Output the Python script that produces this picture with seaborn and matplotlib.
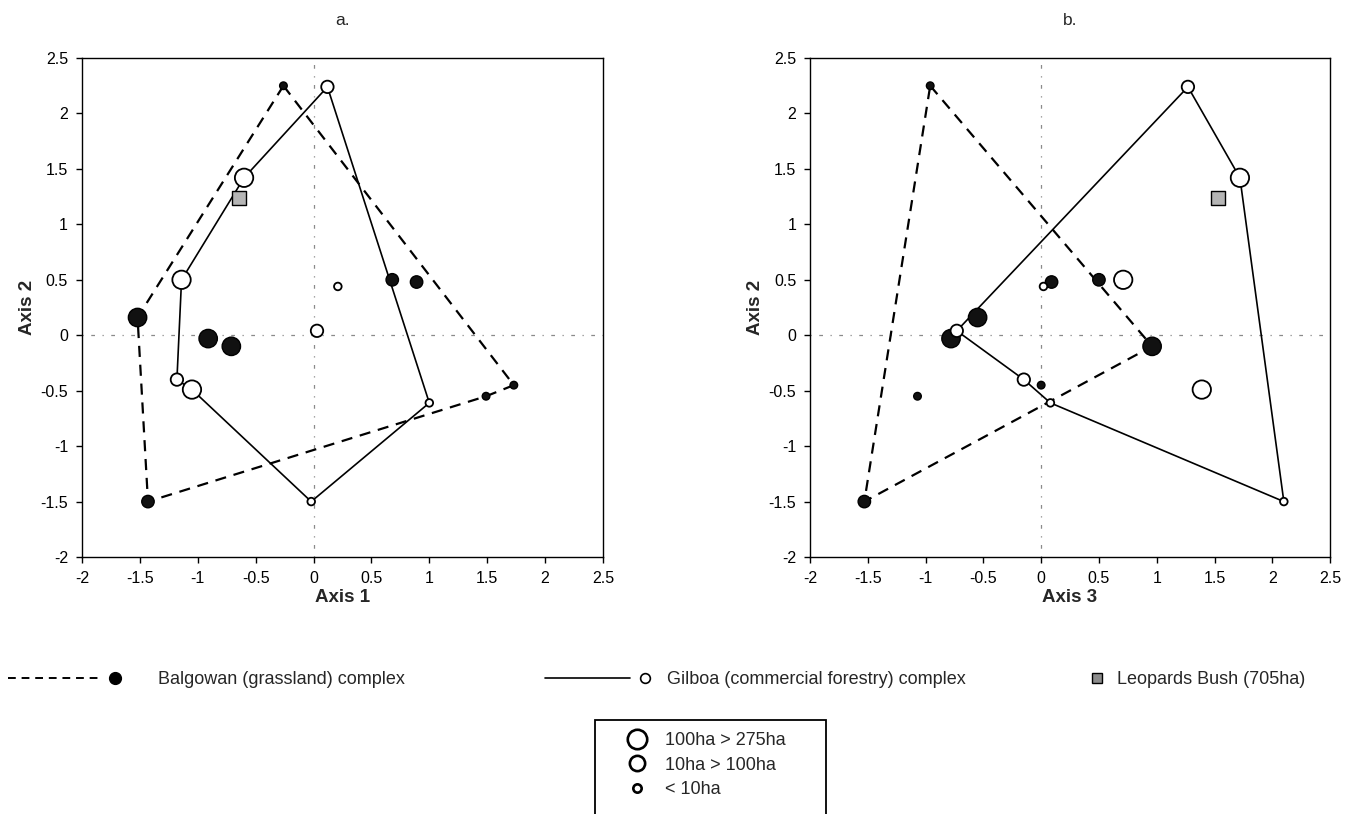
import numpy as np
import pandas as pd
import matplotlib
matplotlib.use("Agg")
import matplotlib.pyplot as plt
import seaborn as sns
from matplotlib.lines import Line2D
from matplotlib.patches import Rectangle
from matplotlib.legend_handler import HandlerBase
from matplotlib.ticker import FuncFormatter

# ---------------- data ----------------
bal_axis1 = [-0.26, -1.52, -1.43, 1.49, 1.73, 0.68, 0.89, -0.91, -0.71]
bal_axis2 = [2.25, 0.16, -1.50, -0.55, -0.45, 0.50, 0.48, -0.03, -0.10]
bal_axis3 = [-0.96, -0.55, -1.53, -1.07, 0.00, 0.50, 0.09, -0.78, 0.96]
bal_size = ["small", "large", "medium", "small", "small", "medium", "medium", "large", "large"]

gil_axis1 = [0.12, -0.60, -1.14, -1.18, -1.05, 0.03, 0.21, 1.00, -0.02]
gil_axis2 = [2.24, 1.42, 0.50, -0.40, -0.49, 0.04, 0.44, -0.61, -1.50]
gil_axis3 = [1.27, 1.72, 0.71, -0.15, 1.39, -0.73, 0.02, 0.08, 2.10]
gil_size = ["medium", "large", "large", "medium", "large", "medium", "small", "small", "small"]

leop_axis1 = [-0.64]
leop_axis2 = [1.24]
leop_axis3 = [1.53]

# hull vertex order (indices into the site lists)
bal_hull_a = [0, 4, 3, 2, 1, 0]
bal_hull_b = [0, 8, 2, 0]
gil_hull_a = [0, 7, 8, 4, 3, 2, 1, 0]
gil_hull_b = [0, 1, 8, 7, 3, 5, 0]

group_labels = ["Balgowan (grassland) complex",
                "Gilboa (commercial forestry) complex",
                "Leopards Bush (705ha)"]
size_labels = ["100ha > 275ha", "10ha > 100ha", "< 10ha"]
tick_values = [-2, -1.5, -1, -0.5, 0, 0.5, 1, 1.5, 2, 2.5]

# ---------------- style ----------------
sns.set_theme(style="white")
plt.rcParams["font.family"] = ["Liberation Sans", "DejaVu Sans"]
plt.rcParams["axes.unicode_minus"] = False

size_area = {"large": 175, "medium": 80, "small": 30}
size_order = ["large", "medium", "small"]

fig = plt.figure(figsize=(13.55, 8.14), dpi=100)
ax_a = fig.add_axes([0.0605, 0.3157, 0.3845, 0.613])
ax_b = fig.add_axes([0.5978, 0.3157, 0.3838, 0.613])


def panel(ax, bal_x, gil_x, leop_x, bal_hull, gil_hull, xlabel, title):
    ax.axhline(0, color="#8a8a8a", lw=0.9, ls=(0, (1, 6, 3, 6)), zorder=1)
    ax.axvline(0, color="#8a8a8a", lw=0.9, ls=(0, (1, 6, 3, 6)), zorder=1)

    sns.lineplot(x=[bal_x[i] for i in bal_hull], y=[bal_axis2[i] for i in bal_hull],
                 sort=False, estimator=None, color="black", lw=1.6,
                 linestyle=(0, (5, 3.5)), ax=ax, zorder=2)
    sns.lineplot(x=[gil_x[i] for i in gil_hull], y=[gil_axis2[i] for i in gil_hull],
                 sort=False, estimator=None, color="black", lw=1.2,
                 linestyle="-", ax=ax, zorder=2)

    bal_df = pd.DataFrame({"x": bal_x, "y": bal_axis2, "cls": bal_size})
    gil_df = pd.DataFrame({"x": gil_x, "y": gil_axis2, "cls": gil_size})
    sns.scatterplot(data=bal_df, x="x", y="y", size="cls", sizes=size_area,
                    size_order=size_order, color="#111111", edgecolor="black",
                    linewidth=1.0, legend=False, ax=ax, zorder=4)
    sns.scatterplot(data=gil_df, x="x", y="y", size="cls", sizes=size_area,
                    size_order=size_order, color="white", edgecolor="black",
                    linewidth=1.3, legend=False, ax=ax, zorder=4)
    sns.scatterplot(x=leop_x, y=leop_axis2, marker="s", s=95, color="#b5b5b5",
                    edgecolor="black", linewidth=1.0, legend=False, ax=ax, zorder=5)

    ax.set_xlim(-2, 2.5)
    ax.set_ylim(-2, 2.5)
    ax.set_xticks(tick_values)
    ax.set_yticks(tick_values)
    fmt = FuncFormatter(lambda v, p: "%g" % v)
    ax.xaxis.set_major_formatter(fmt)
    ax.yaxis.set_major_formatter(fmt)
    ax.tick_params(axis="both", direction="out", length=4, width=1, colors="black",
                   labelsize=11.5, bottom=True, left=True, top=False, right=False, pad=6)
    for sp in ax.spines.values():
        sp.set_color("black")
        sp.set_linewidth(1.0)
    ax.set_xlabel(xlabel, fontsize=13.5, fontweight="bold", labelpad=2)
    ax.set_ylabel("Axis 2", fontsize=13.5, fontweight="bold", labelpad=3)
    ax.set_title(title, fontsize=12.5, pad=24)


panel(ax_a, bal_axis1, gil_axis1, leop_axis1, bal_hull_a, gil_hull_a, "Axis 1", "a.")
panel(ax_b, bal_axis3, gil_axis3, leop_axis3, bal_hull_b, gil_hull_b, "Axis 3", "b.")


# ---------------- legends ----------------
class LineThenMarker(HandlerBase):
    """Line over the left part of the handle box, marker at its right end."""

    def __init__(self, frac=0.85, **kw):
        super().__init__(**kw)
        self.frac = frac

    def create_artists(self, legend, orig_handle, xdescent, ydescent,
                       width, height, fontsize, trans):
        y = height / 2 - ydescent
        x0 = -xdescent
        line = Line2D([x0, x0 + width * self.frac], [y, y])
        line.update_from(orig_handle)
        line.set_marker("None")
        mk = Line2D([x0 + width], [y])
        mk.update_from(orig_handle)
        mk.set_linestyle("None")
        line.set_transform(trans)
        mk.set_transform(trans)
        return [line, mk]


fs = 13
row_y = 1 - 680 / 814

h_bal = Line2D([0, 1], [0, 0], color="black", lw=1.4, linestyle=(0, (4, 3)),
               marker="o", markersize=8.5, markerfacecolor="black",
               markeredgecolor="black")
fig.legend(handles=[h_bal], labels=[group_labels[0]],
           handler_map={h_bal: LineThenMarker(frac=0.86)},
           loc="center left", bbox_to_anchor=(8 / 1355, row_y),
           frameon=False, fontsize=fs, handlelength=5.9,
           handletextpad=2.4, borderpad=0, borderaxespad=0)

h_gil = Line2D([0, 1], [0, 0], color="black", lw=1.2, linestyle="-",
               marker="o", markersize=7, markerfacecolor="white",
               markeredgecolor="black", markeredgewidth=1.2)
fig.legend(handles=[h_gil], labels=[group_labels[1]],
           handler_map={h_gil: LineThenMarker(frac=0.85)},
           loc="center left", bbox_to_anchor=(545 / 1355, row_y),
           frameon=False, fontsize=fs, handlelength=5.55,
           handletextpad=1.2, borderpad=0, borderaxespad=0)

h_leo = Line2D([0], [0], color="none", marker="s", markersize=7.5,
               markerfacecolor="#8c8c8c", markeredgecolor="black")
fig.legend(handles=[h_leo], labels=[group_labels[2]],
           loc="center left", bbox_to_anchor=(1090 / 1355, row_y),
           frameon=False, fontsize=fs, numpoints=1, handlelength=0.8,
           handletextpad=0.7, borderpad=0, borderaxespad=0)

size_ms = [14, 11, 6]
size_handles = [Line2D([0], [0], color="none", marker="o", markersize=m,
                       markerfacecolor="white", markeredgecolor="black",
                       markeredgewidth=1.9) for m in size_ms]
fig.legend(handles=size_handles, labels=size_labels,
           loc="upper left", bbox_to_anchor=(623 / 1355, 1 - 732 / 814),
           frameon=False, fontsize=fs, numpoints=1, handlelength=1.5,
           handletextpad=0.8, borderpad=0, borderaxespad=0, labelspacing=0.42)
fig.add_artist(Rectangle((595 / 1355, -0.05), 231 / 1355, (1 - 720 / 814) + 0.05,
                         transform=fig.transFigure, fill=False,
                         edgecolor="black", linewidth=1.3))

fig.savefig("out.png", dpi=100)
